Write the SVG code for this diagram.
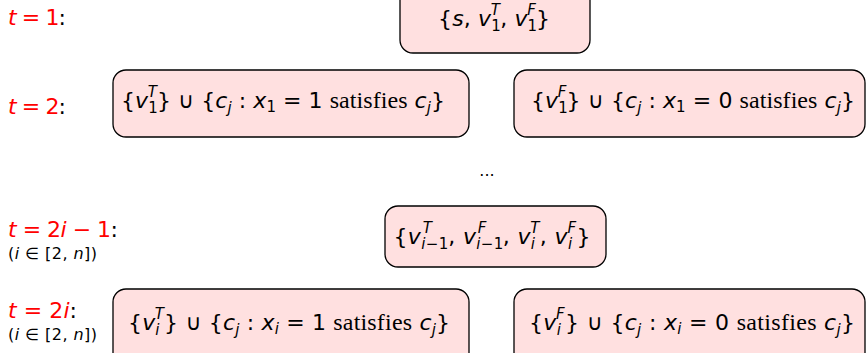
<svg xmlns="http://www.w3.org/2000/svg" width="867" height="353" viewBox="0 0 867 353">
<style>
.box{fill:#ffe0e0;stroke:#000;stroke-width:1.3}
.m{font-family:"DejaVu Sans","Liberation Sans",sans-serif;font-size:22px;fill:#000}
.i{font-style:italic}
.s{font-size:15px}
.rm{font-family:"Liberation Serif","Times New Roman",serif;font-size:24px}
.red{fill:#ff0000}
.sm{font-family:"DejaVu Sans","Liberation Sans",sans-serif;font-size:16px;fill:#000}
</style>
<rect width="867" height="353" fill="#fff"/>
<g id="labels">
<text class="m" x="8" y="25" textLength="58" lengthAdjust="spacing"><tspan class="red"><tspan class="i">t</tspan> = 1</tspan>:</text>
<text class="m" x="8" y="114" textLength="58" lengthAdjust="spacing"><tspan class="red"><tspan class="i">t</tspan> = 2</tspan>:</text>
<text class="m" x="8" y="237" textLength="110" lengthAdjust="spacing"><tspan class="red"><tspan class="i">t</tspan> = 2<tspan class="i">i</tspan> − 1</tspan>:</text>
<text class="sm" x="8" y="259" textLength="89" lengthAdjust="spacing">(<tspan class="i">i</tspan> ∈ [2, <tspan class="i">n</tspan>])</text>
<text class="m" x="8" y="318" textLength="69" lengthAdjust="spacing"><tspan class="red"><tspan class="i">t</tspan> = 2<tspan class="i">i</tspan></tspan>:</text>
<text class="sm" x="8" y="340" textLength="89" lengthAdjust="spacing">(<tspan class="i">i</tspan> ∈ [2, <tspan class="i">n</tspan>])</text>
<text class="m" x="487" y="176" text-anchor="middle" style="font-size:16px">...</text>
</g>
<g id="n1">
<rect class="box" x="400" y="-15" width="190" height="68" rx="13"/>
<text class="m" x="494" y="26" text-anchor="middle" textLength="112" lengthAdjust="spacing">{<tspan class="i">s</tspan>, <tspan class="i">v</tspan><tspan class="s" dy="5">1</tspan><tspan class="s i" dx="-10" dy="-16">T</tspan><tspan dy="11">, </tspan><tspan class="i">v</tspan><tspan class="s" dy="5">1</tspan><tspan class="s i" dx="-10" dy="-16">F</tspan><tspan dy="11">}</tspan></text>
</g>
<g id="n2">
<rect class="box" x="113" y="70" width="356" height="67" rx="13"/>
<text class="m" x="283" y="108" text-anchor="middle" textLength="324" lengthAdjust="spacing">{<tspan class="i">v</tspan><tspan class="s" dy="5">1</tspan><tspan class="s i" dx="-10" dy="-16">T</tspan><tspan dy="11">} ∪ {</tspan><tspan class="i">c</tspan><tspan class="s i" dy="5">j</tspan><tspan dy="-5"> : </tspan><tspan class="i">x</tspan><tspan class="s" dy="4">1</tspan><tspan dy="-4"> = 1 </tspan><tspan class="rm">satisfies</tspan> <tspan class="i">c</tspan><tspan class="s i" dy="5">j</tspan><tspan dy="-5">}</tspan></text>
</g>
<g id="n3">
<rect class="box" x="514" y="70" width="351" height="67" rx="13"/>
<text class="m" x="693" y="108" text-anchor="middle" textLength="324" lengthAdjust="spacing">{<tspan class="i">v</tspan><tspan class="s" dy="5">1</tspan><tspan class="s i" dx="-10" dy="-16">F</tspan><tspan dy="11">} ∪ {</tspan><tspan class="i">c</tspan><tspan class="s i" dy="5">j</tspan><tspan dy="-5"> : </tspan><tspan class="i">x</tspan><tspan class="s" dy="4">1</tspan><tspan dy="-4"> = 0 </tspan><tspan class="rm">satisfies</tspan> <tspan class="i">c</tspan><tspan class="s i" dy="5">j</tspan><tspan dy="-5">}</tspan></text>
</g>
<g id="n4">
<rect class="box" x="385" y="206" width="221" height="61" rx="13"/>
<text class="m" x="492" y="244" text-anchor="middle" textLength="197" lengthAdjust="spacing">{<tspan class="i">v</tspan><tspan class="s" dy="5"><tspan class="i">i</tspan>−1</tspan><tspan class="s i" dx="-26" dy="-16">T</tspan><tspan dy="11" dx="16">, </tspan><tspan class="i">v</tspan><tspan class="s" dy="5"><tspan class="i">i</tspan>−1</tspan><tspan class="s i" dx="-26" dy="-16">F</tspan><tspan dy="11" dx="16">, </tspan><tspan class="i">v</tspan><tspan class="s i" dy="5">i</tspan><tspan class="s i" dx="-5" dy="-16">T</tspan><tspan dy="11">, </tspan><tspan class="i">v</tspan><tspan class="s i" dy="5">i</tspan><tspan class="s i" dx="-5" dy="-16">F</tspan><tspan dy="11">}</tspan></text>
</g>
<g id="n5">
<rect class="box" x="113" y="289" width="356" height="80" rx="13"/>
<text class="m" x="289" y="330" text-anchor="middle" textLength="322" lengthAdjust="spacing">{<tspan class="i">v</tspan><tspan class="s i" dy="5">i</tspan><tspan class="s i" dx="-5" dy="-16">T</tspan><tspan dy="11">} ∪ {</tspan><tspan class="i">c</tspan><tspan class="s i" dy="5">j</tspan><tspan dy="-5"> : </tspan><tspan class="i">x</tspan><tspan class="s i" dy="4">i</tspan><tspan dy="-4"> = 1 </tspan><tspan class="rm">satisfies</tspan> <tspan class="i">c</tspan><tspan class="s i" dy="5">j</tspan><tspan dy="-5">}</tspan></text>
</g>
<g id="n6">
<rect class="box" x="514" y="289" width="351" height="80" rx="13"/>
<text class="m" x="692" y="330" text-anchor="middle" textLength="326" lengthAdjust="spacing">{<tspan class="i">v</tspan><tspan class="s i" dy="5">i</tspan><tspan class="s i" dx="-5" dy="-16">F</tspan><tspan dy="11">} ∪ {</tspan><tspan class="i">c</tspan><tspan class="s i" dy="5">j</tspan><tspan dy="-5"> : </tspan><tspan class="i">x</tspan><tspan class="s i" dy="4">i</tspan><tspan dy="-4"> = 0 </tspan><tspan class="rm">satisfies</tspan> <tspan class="i">c</tspan><tspan class="s i" dy="5">j</tspan><tspan dy="-5">}</tspan></text>
</g>
<g id="connectors"/>
</svg>
